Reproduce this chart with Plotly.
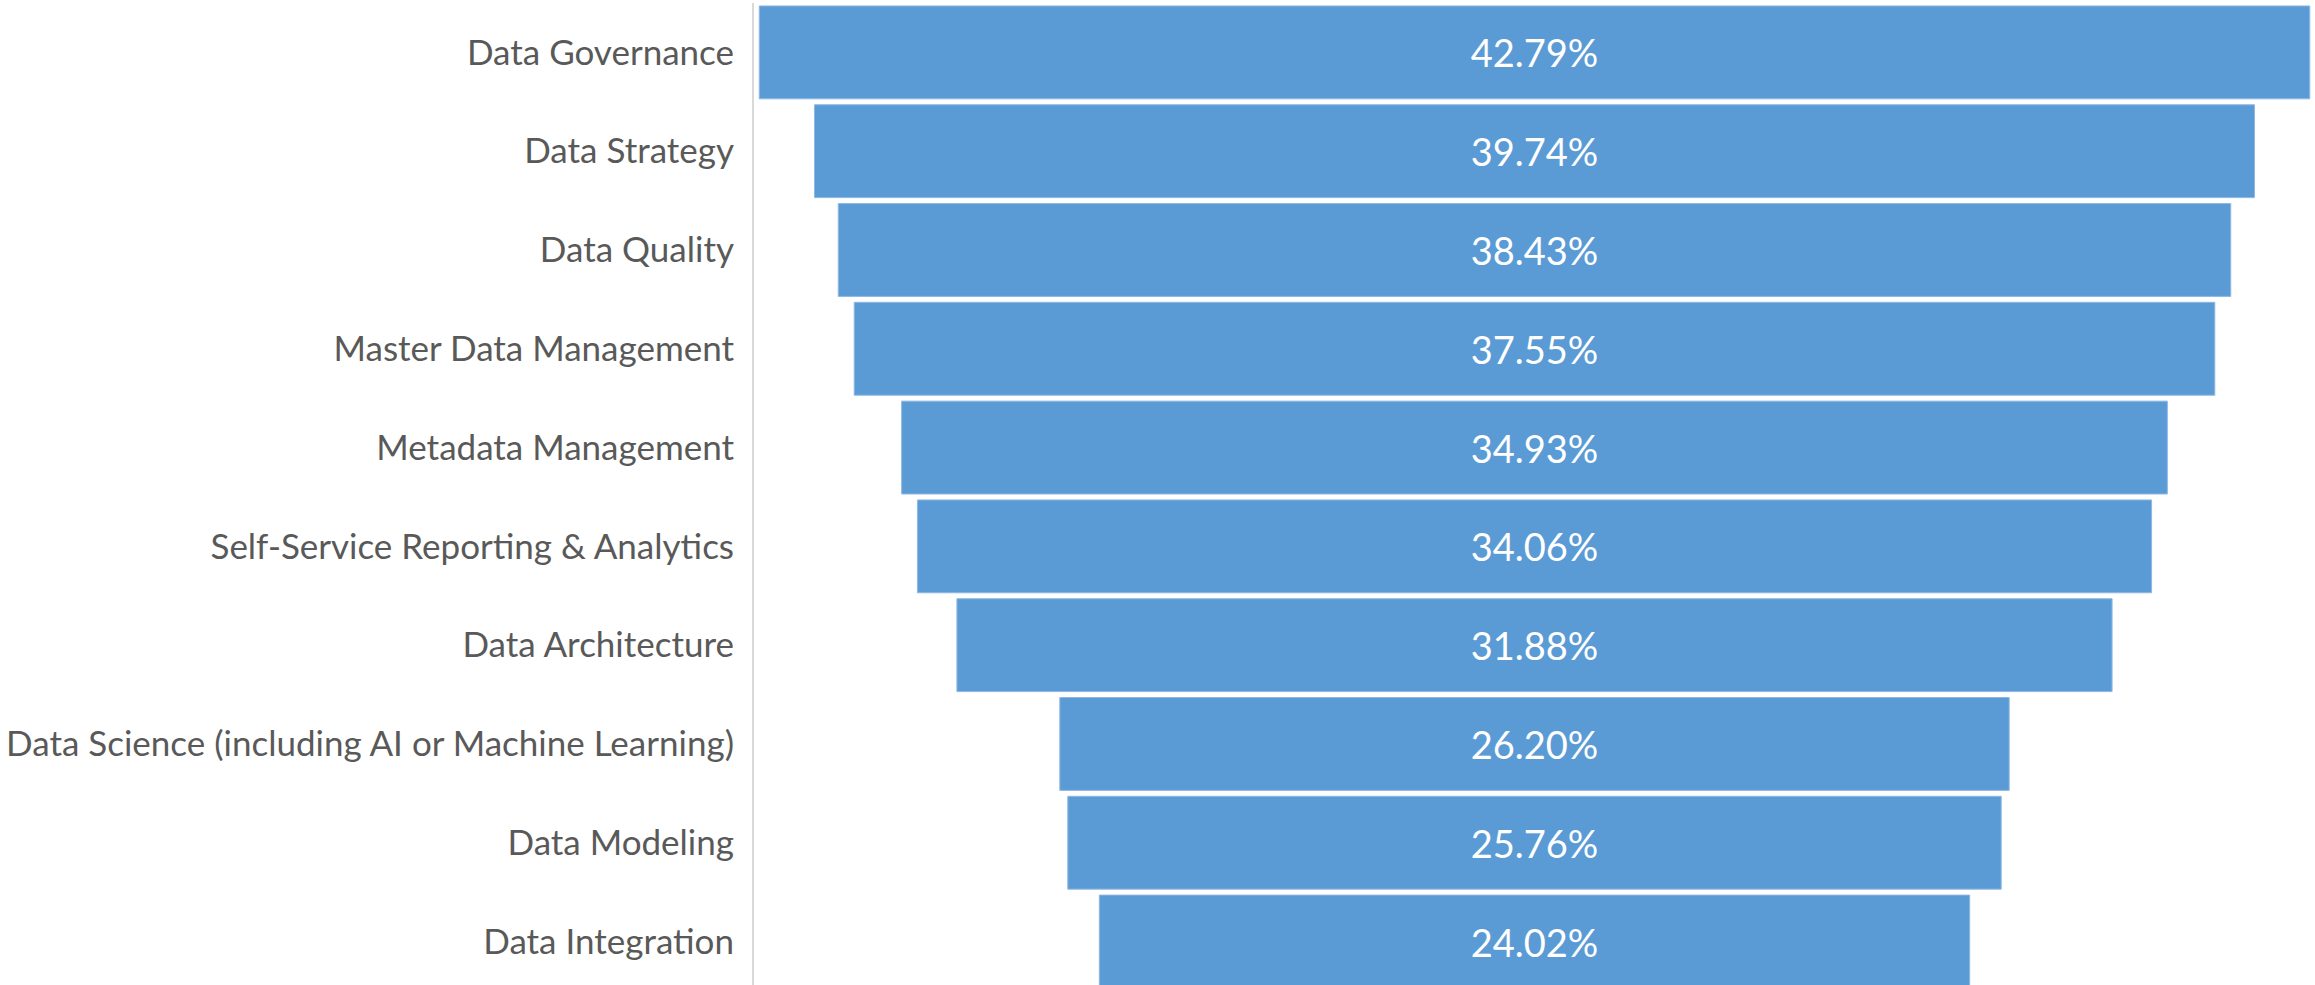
import plotly.graph_objects as go

categories = [
    "Data Governance",
    "Data Strategy",
    "Data Quality",
    "Master Data Management",
    "Metadata Management",
    "Self-Service Reporting & Analytics",
    "Data Architecture",
    "Data Science (including AI or Machine Learning)",
    "Data Modeling",
    "Data Integration",
]
values = [42.79, 39.74, 38.43, 37.55, 34.93, 34.06, 31.88, 26.20, 25.76, 24.02]

FONT = "Lato"

fig = go.Figure(
    go.Funnel(
        y=categories,
        x=values,
        texttemplate="%{x:.2f}%",
        textposition="inside",
        insidetextanchor="middle",
        textfont=dict(color="white", size=38, family=FONT),
        marker=dict(color="#5B9BD5", line=dict(color="#8DB8E3", width=1)),
        connector=dict(visible=False),
        hoverinfo="skip",
    )
)

fig.update_layout(
    width=2315,
    height=985,
    margin=dict(l=754, r=0, t=3, b=0),
    paper_bgcolor="white",
    plot_bgcolor="white",
    funnelgap=0.06,
    showlegend=False,
    font=dict(family=FONT, color="#595959", size=35),
)
fig.update_xaxes(visible=False, range=[-21.54, 21.54])
fig.update_yaxes(
    range=[9.44, -0.5],
    showline=True,
    linecolor="#D9D9D9",
    linewidth=2,
    showgrid=False,
    ticks="",
    ticklabelstandoff=11,
    tickfont=dict(family=FONT, size=35, color="#595959"),
)

fig.write_html(
    "out.html",
    config={"displayModeBar": False},
    post_script="document.body.style.margin='0';document.body.style.overflow='hidden';",
)
